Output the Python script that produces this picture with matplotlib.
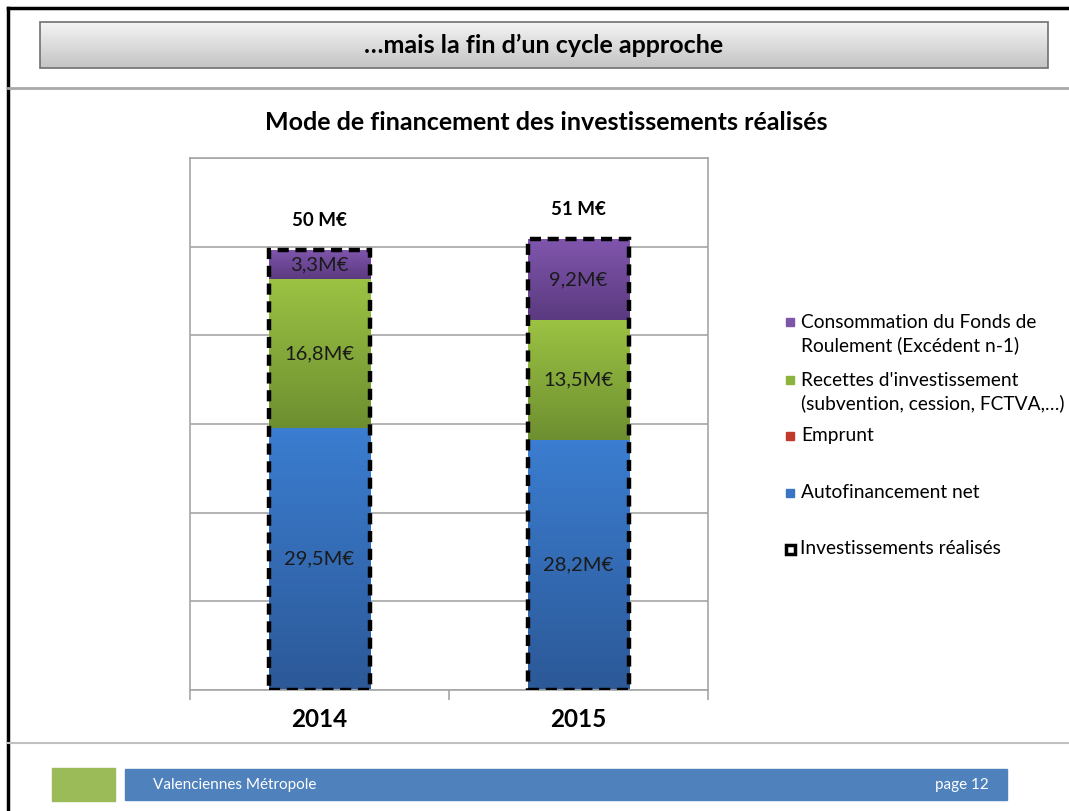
import matplotlib.pyplot as plt
import numpy as np
from matplotlib.patches import Rectangle
from matplotlib.colors import LinearSegmentedColormap

plt.rcParams['font.family'] = ['Lato', 'DejaVu Sans']

# data
years = ["2014", "2015"]
autofin = np.array([29.5, 28.2])
emprunt = np.array([0.0, 0.0])
recettes = np.array([16.8, 13.5])
fonds = np.array([3.3, 9.2])
totals_label = ["50 M€", "51 M€"]
autofin_lbl = ["29,5M€", "28,2M€"]
recettes_lbl = ["16,8M€", "13,5M€"]
fonds_lbl = ["3,3M€", "9,2M€"]

W, H = 1069, 811
fig = plt.figure(figsize=(W / 100, H / 100), dpi=100)
fig.patch.set_facecolor("white")

# slide decorations (pixel coords)
deco = fig.add_axes([0, 0, 1, 1], zorder=-5)
deco.axis("off")
deco.plot([8, 8], [8, H], color="black", lw=2.5)
deco.plot([8, W], [8, 8], color="black", lw=2.5)
deco.plot([8, W], [88, 88], color="#a8a8a8", lw=2)
deco.plot([8, W], [743, 743], color="#c0c0c0", lw=1.5)

grad = np.linspace(0, 1, 64).reshape(-1, 1)
deco.imshow(grad, extent=[40, 1048, 68, 22], origin="lower",
            cmap=LinearSegmentedColormap.from_list("g", ["#c4c4c4", "#f4f4f4"]),
            aspect="auto", zorder=1)
deco.add_patch(Rectangle((40, 22), 1008, 46, fill=False, edgecolor="#6f6f6f", lw=1.2, zorder=2))
deco.text(544, 45, "…mais la fin d’un cycle approche", ha="center", va="center",
          fontsize=18, fontweight="bold", color="black", zorder=3)

deco.add_patch(Rectangle((52, 768), 63, 33, color="#9bbb59"))
deco.add_patch(Rectangle((125, 769), 882, 31, color="#4f81bd"))
deco.text(153, 785, "Valenciennes Métropole", color="white", fontsize=11, va="center")
deco.text(935, 785, "page 12", color="white", fontsize=11, va="center")

deco.text(546, 122, "Mode de financement des investissements réalisés",
          ha="center", va="center", fontsize=18, fontweight="bold")

# legend
leg_items = [
    ("#7e55a8", ["Consommation du Fonds de", "Roulement (Excédent n-1)"], 322),
    ("#8cb43d", ["Recettes d'investissement", "(subvention, cession, FCTVA,…)"], 380),
    ("#c0392b", ["Emprunt"], 436),
    ("#3a74c4", ["Autofinancement net"], 493),
]
for col, lines, ypx in leg_items:
    deco.add_patch(Rectangle((786, ypx - 4), 8, 8, color=col))
    for k, ln in enumerate(lines):
        deco.text(801, ypx + k * 23, ln, fontsize=13.8, va="center")
deco.add_patch(Rectangle((786, 545), 9, 9, fill=False, edgecolor="black", lw=2.5))
deco.text(800, 549, "Investissements réalisés", fontsize=13.8, va="center")
deco.set_xlim(0, W)
deco.set_ylim(H, 0)

# chart
ax = fig.add_axes([190 / W, 1 - 690 / H, 518 / W, 532 / H])
x = np.arange(len(years))
bw = 0.39

series = [
    (autofin, "#3b7dd0", "#2c5998"),
    (emprunt, "#c0504d", "#9c3a38"),
    (recettes, "#9bc243", "#6e8f30"),
    (fonds, "#8056ad", "#5b3a80"),
]
bottom = np.zeros(len(years))
bottoms = []
for vals, ctop, cbot in series:
    bottoms.append(bottom.copy())
    bars = ax.bar(x, vals, bw, bottom=bottom, color=ctop, lw=0, zorder=2)
    cmap = LinearSegmentedColormap.from_list("c", [cbot, ctop])
    for b in bars:
        if b.get_height() <= 0:
            continue
        x0, y0 = b.get_x(), b.get_y()
        im = ax.imshow(grad, extent=[x0, x0 + b.get_width(), y0, y0 + b.get_height()],
                       cmap=cmap, aspect="auto", origin="lower", zorder=2.5)
        im.set_clip_path(b)
    bottom = bottom + vals

for vals, base, lbls in [(autofin, bottoms[0], autofin_lbl),
                         (recettes, bottoms[2], recettes_lbl),
                         (fonds, bottoms[3], fonds_lbl)]:
    for j in range(len(years)):
        ax.text(x[j], base[j] + vals[j] / 2, lbls[j], ha="center", va="center",
                fontsize=14.5, color="#1a1a1a", zorder=5)

totals = autofin + emprunt + recettes + fonds
ax.bar(x, totals, bw, fill=False, edgecolor="black", linestyle=(0, (2.5, 1.5)), lw=3.2, zorder=4)
for j in range(len(years)):
    ax.text(x[j], totals[j] + 3.3, totals_label[j], ha="center", va="center",
            fontsize=13.5, fontweight="bold")

ax.set_xlim(-0.5, 1.5)
ax.set_ylim(0, 60)
ax.set_yticks(np.arange(0, 61, 10))
ax.yaxis.grid(True, color="#a6a6a6", lw=1.2, zorder=0)
ax.set_axisbelow(True)
ax.tick_params(axis="y", left=False, labelleft=False)
ax.set_xticks(x)
ax.set_xticklabels(years, fontsize=17.5, fontweight="bold")
ax.tick_params(axis="x", length=0, pad=13)
ax.set_xticks([-0.5, 0.5, 1.5], minor=True)
ax.tick_params(axis="x", which="minor", length=7, color="#a6a6a6", width=1.2)
for s in ax.spines.values():
    s.set_color("#a6a6a6")
    s.set_linewidth(1.2)

fig.savefig("out.png", dpi=100)
